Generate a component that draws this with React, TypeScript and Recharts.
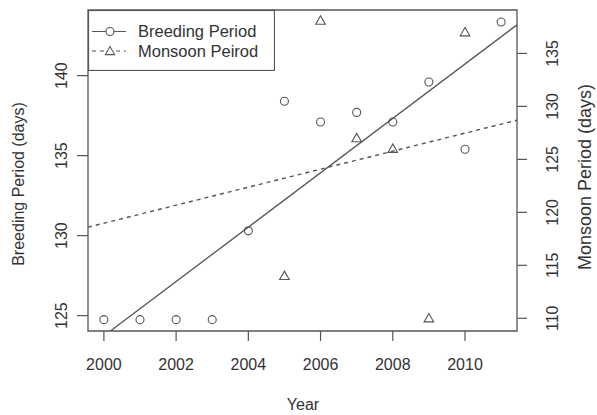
import {
	ComposedChart,
	Scatter,
	XAxis,
	YAxis,
	ReferenceArea,
	Legend,
	Label,
} from "recharts"

const years = [2000, 2001, 2002, 2003, 2004, 2005, 2006, 2007, 2008, 2009, 2010, 2011]
const breedingDays = [124.75, 124.75, 124.75, 124.75, 130.3, 138.4, 137.1, 137.7, 137.1, 139.6, 135.4, 143.35]

const monsoonYears = [2005, 2006, 2007, 2008, 2009, 2010]
const monsoonDays = [114.0, 138.1, 127.0, 126.0, 110.0, 137.0]

// fitted lines, end points
const breedingFitYears = [2000.18, 2011.44]
const breedingFitDays = [124.04, 143.17]
const monsoonFitYears = [1999.56, 2011.44]
const monsoonFitDays = [118.6, 128.7]

const yearTicks = [2000, 2002, 2004, 2006, 2008, 2010]
const breedingTicks = [125, 130, 135, 140]
const monsoonTicks = [110, 115, 120, 125, 130, 135]

const toPoints = (xs: number[], ys: number[]) => xs.map((x, i) => ({ x, y: ys[i] }))

const breedingData = toPoints(years, breedingDays)
const monsoonData = toPoints(monsoonYears, monsoonDays)
const breedingFit = toPoints(breedingFitYears, breedingFitDays)
const monsoonFit = toPoints(monsoonFitYears, monsoonFitDays)

const FONT = "'Liberation Sans', Arial, Helvetica, sans-serif"
const INK = "#333"
const LINE = "#555"

const xDomain = [1999.56, 2011.44]
const leftDomain = [124.04, 144.1]
const rightDomain = [108.8, 139.1]

const Circle = (p: any) => (
	<circle cx={p.cx} cy={p.cy} r={4} fill="none" stroke={LINE} strokeWidth={1.1} />
)

const Triangle = (p: any) => (
	<path
		d={`M${p.cx},${p.cy - 4.8} L${p.cx - 4.8},${p.cy + 3.6} L${p.cx + 4.8},${p.cy + 3.6} Z`}
		fill="none"
		stroke={LINE}
		strokeWidth={1.1}
	/>
)

const NoDot = () => <g />

const XTick = (p: any) => (
	<text x={p.x} y={370} textAnchor="middle" fontSize={16} fill={INK} fontFamily={FONT}>
		{p.payload.value}
	</text>
)

const LeftTick = (p: any) => (
	<text
		x={67}
		y={p.y}
		transform={`rotate(-90 67 ${p.y})`}
		textAnchor="middle"
		fontSize={16}
		fill={INK}
		fontFamily={FONT}
	>
		{p.payload.value}
	</text>
)

const RightTick = (p: any) => (
	<text
		x={558}
		y={p.y}
		transform={`rotate(-90 558 ${p.y})`}
		textAnchor="middle"
		fontSize={16}
		fill={INK}
		fontFamily={FONT}
	>
		{p.payload.value}
	</text>
)

const LegendBox = () => (
	<svg width={187} height={61} style={{ display: "block" }}>
		<rect x={0.5} y={0.5} width={186} height={60} fill="#fff" stroke={LINE} strokeWidth={1.2} />
		<line x1={4} x2={38} y1={21.5} y2={21.5} stroke={LINE} strokeWidth={1.2} />
		<circle cx={22} cy={21.5} r={4} fill="#fff" stroke={LINE} strokeWidth={1.1} />
		<line x1={4} x2={38} y1={41} y2={41} stroke={LINE} strokeWidth={1.2} strokeDasharray="4 4" />
		<path d="M22,36.5 L17.4,44.6 L26.6,44.6 Z" fill="#fff" stroke={LINE} strokeWidth={1.1} />
		<text x={50} y={27} fontSize={16.5} fill={INK} fontFamily={FONT}>
			Breeding Period
		</text>
		<text x={50} y={46.5} fontSize={16.5} fill={INK} fontFamily={FONT}>
			Monsoon Peirod
		</text>
	</svg>
)

export default function App() {
	return (
		<div style={{ position: "absolute", left: 0, top: 0, background: "#fff" }}>
			<ComposedChart width={597} height={415} margin={{ top: 10, right: 0, bottom: 0, left: 0 }}>
				<XAxis
					xAxisId="x"
					type="number"
					dataKey="x"
					domain={xDomain}
					ticks={yearTicks}
					allowDataOverflow
					height={84}
					axisLine={false}
					tickSize={10}
					tickLine={{ stroke: LINE, strokeWidth: 1.2 }}
					tick={<XTick />}
				>
					<Label
						content={() => (
							<text x={303} y={410} textAnchor="middle" fontSize={16} fill={INK} fontFamily={FONT}>
								Year
							</text>
						)}
					/>
				</XAxis>
				<YAxis
					yAxisId="l"
					type="number"
					dataKey="y"
					domain={leftDomain}
					ticks={breedingTicks}
					allowDataOverflow
					width={88}
					axisLine={false}
					tickSize={11}
					tickLine={{ stroke: LINE, strokeWidth: 1.2 }}
					tick={<LeftTick />}
				>
					<Label
						content={() => (
							<text
								x={23.5}
								y={184}
								transform="rotate(-90 23.5 184)"
								textAnchor="middle"
								fontSize={16}
								fill={INK}
								fontFamily={FONT}
							>
								Breeding Period (days)
							</text>
						)}
					/>
				</YAxis>
				<YAxis
					yAxisId="r"
					orientation="right"
					type="number"
					dataKey="y"
					domain={rightDomain}
					ticks={monsoonTicks}
					allowDataOverflow
					width={80}
					axisLine={false}
					tickSize={10}
					tickLine={{ stroke: LINE, strokeWidth: 1.2 }}
					tick={<RightTick />}
				>
					<Label
						content={() => (
							<text
								x={591}
								y={177}
								transform="rotate(-90 591 177)"
								textAnchor="middle"
								fontSize={18}
								fill={INK}
								fontFamily={FONT}
							>
								Monsoon Period (days)
							</text>
						)}
					/>
				</YAxis>

				<ReferenceArea
					xAxisId="x"
					yAxisId="l"
					x1={xDomain[0]}
					x2={xDomain[1]}
					y1={leftDomain[0]}
					y2={leftDomain[1]}
					fill="none"
					stroke={LINE}
					strokeWidth={1.3}
					ifOverflow="visible"
				/>

				<Scatter
					xAxisId="x"
					yAxisId="l"
					data={breedingFit}
					shape={<NoDot />}
					line={{ stroke: LINE, strokeWidth: 1.3 }}
					legendType="none"
					isAnimationActive={false}
				/>
				<Scatter
					xAxisId="x"
					yAxisId="r"
					data={monsoonFit}
					shape={<NoDot />}
					line={{ stroke: LINE, strokeWidth: 1.4, strokeDasharray: "4 4" }}
					legendType="none"
					isAnimationActive={false}
				/>
				<Scatter
					name="Breeding Period"
					xAxisId="x"
					yAxisId="l"
					data={breedingData}
					shape={<Circle />}
					isAnimationActive={false}
				/>
				<Scatter
					name="Monsoon Peirod"
					xAxisId="x"
					yAxisId="r"
					data={monsoonData}
					shape={<Triangle />}
					isAnimationActive={false}
				/>

				<Legend
					layout="vertical"
					align="center"
					verticalAlign="middle"
					wrapperStyle={{ left: 88, top: 10, width: 187, height: 61 }}
					content={() => <LegendBox />}
				/>
			</ComposedChart>
		</div>
	)
}
